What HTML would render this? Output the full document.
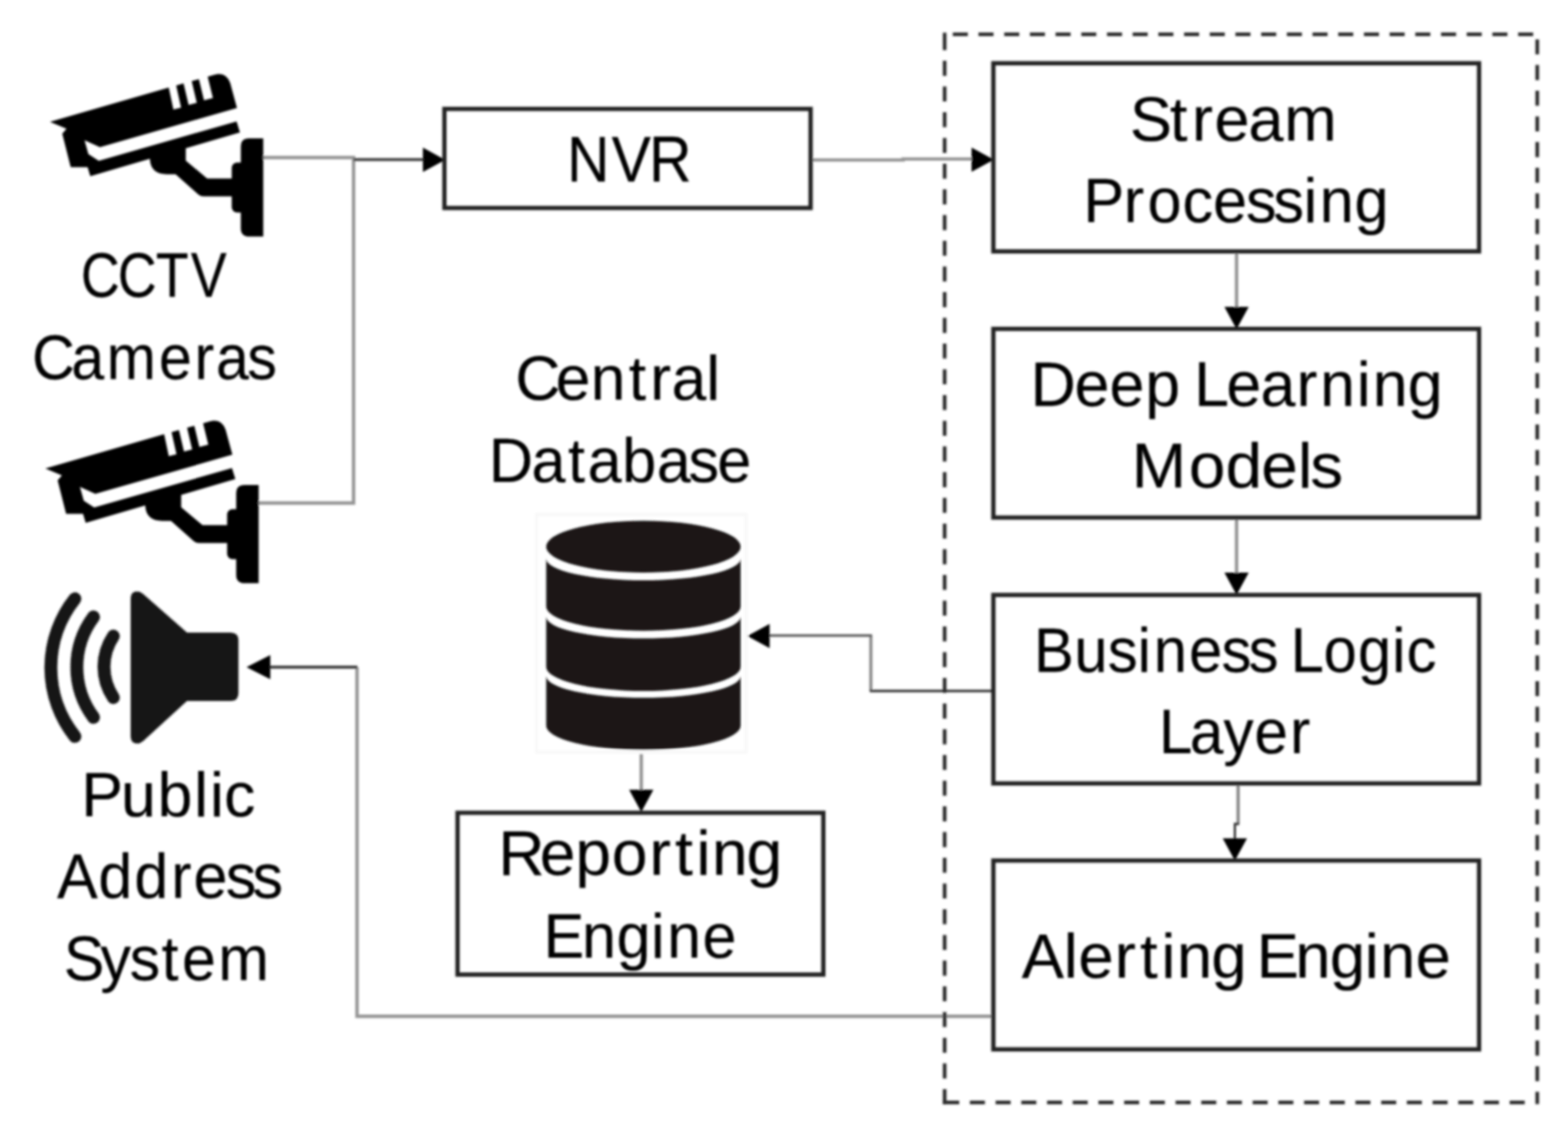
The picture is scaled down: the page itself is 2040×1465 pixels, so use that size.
<!DOCTYPE html>
<html lang="en"><head><meta charset="utf-8"><title>CCTV Stream Processing</title>
<style>html,body{margin:0;padding:0;background:#fff}body{width:2040px;height:1465px;overflow:hidden}svg{display:block}text{font-family:"Liberation Sans",sans-serif;fill:#060606;stroke:#060606;stroke-width:0.25px}</style>
</head><body>
<svg width="2040" height="1465" viewBox="0 0 2040 1465" role="img" aria-label="CCTV Cameras, NVR, Stream Processing, Deep Learning Models, Business Logic Layer, Alerting Engine, Central Database, Reporting Engine, Public Address System">
<defs><filter id="b" x="-5%" y="-5%" width="110%" height="110%"><feGaussianBlur stdDeviation="1.4"/></filter></defs>
<rect width="2040" height="1465" fill="#fff"/>
<g filter="url(#b)">
<rect x="698" y="669.5" width="272.5" height="309" fill="none" stroke="#f8f8f8" stroke-width="4"/>
<ellipse cx="837.10" cy="711.25" rx="126.50" ry="33.75" fill="#1a1818"/>
<path d="M710.6 726.70 A126.50 28.3 0 0 0 963.6 726.70 L963.6 789.20 A126.50 31.5 0 0 1 710.6 789.20 Z" fill="#1a1818"/>
<path d="M710.6 802.30 A126.50 28.3 0 0 0 963.6 802.30 L963.6 867.50 A126.50 31.5 0 0 1 710.6 867.50 Z" fill="#1a1818"/>
<path d="M710.6 879.50 A126.50 28.3 0 0 0 963.6 879.50 L963.6 944.20 A126.50 31.5 0 0 1 710.6 944.20 Z" fill="#1a1818"/>
<g fill="none" stroke="#949494" stroke-width="4.4">
<path d="M342 205 H460 V654.5 H336"/>
<path d="M1056 208.1 H1175 V206.9 H1266"/>
<path d="M1608.8 329 V400"/>
<path d="M1608.8 675 V746"/>
<path d="M834.3 981 V1030"/>
<path d="M1290 1322.2 H464.5 V868"/>
</g>
<path d="M1133 826.8 V899" fill="none" stroke="#8c8c8c" stroke-width="4.2"/>
<path d="M1134.5 826.8 H1000" fill="none" stroke="#585858" stroke-width="3.2"/>
<path d="M1290 899 H1131.5" fill="none" stroke="#262626" stroke-width="3.2"/>
<path d="M1610.8 1021 V1072" fill="none" stroke="#878787" stroke-width="4.2"/>
<path d="M1612.2 1072 H1606.6 V1093" fill="none" stroke="#2a2a2a" stroke-width="2.8"/>
<g fill="none" stroke="#3c3c3c" stroke-width="3.8">
<path d="M460 207.6 H552"/>
<path d="M465 868 H350"/>
</g>
<path d="M579.2 207.9 L550.2 192.1 L550.2 223.70000000000002 Z" fill="#000"/>
<path d="M1293 207.8 L1264 192.0 L1264 223.60000000000002 Z" fill="#000"/>
<path d="M1608.8 428.2 L1593.0 399.2 L1624.6 399.2 Z" fill="#000"/>
<path d="M1608.8 774.0 L1593.0 745.0 L1624.6 745.0 Z" fill="#000"/>
<path d="M1606.6 1119.8 L1590.8 1090.8 L1622.3999999999999 1090.8 Z" fill="#000"/>
<path d="M834.3 1056.5 L818.5 1027.5 L850.0999999999999 1027.5 Z" fill="#000"/>
<path d="M972.3 827.5 L1001.3 811.7 L1001.3 843.3 Z" fill="#000"/>
<path d="M320.7 868 L351.7 852.2 L351.7 883.8 Z" fill="#000"/>
<g fill="none" stroke="#2b2b2b" stroke-width="4.7">
<path d="M1239.6 44.7H1259.2M1273.0 44.7H1292.6M1306.5 44.7H1326.1M1339.9 44.7H1359.5M1373.3 44.7H1392.9M1406.8 44.7H1426.3M1440.2 44.7H1459.8M1473.6 44.7H1493.2M1507.0 44.7H1526.6M1540.5 44.7H1560.1M1573.9 44.7H1593.5M1607.3 44.7H1626.9M1640.8 44.7H1660.4M1674.2 44.7H1693.8M1707.6 44.7H1727.2M1741.0 44.7H1760.6M1774.5 44.7H1794.1M1807.9 44.7H1827.5M1841.3 44.7H1860.9M1874.8 44.7H1894.4M1908.2 44.7H1927.8M1941.6 44.7H1961.2M1975.1 44.7H1994.7"/>
<path d="M2000 51.2V70.8M2000 84.6V104.2M2000 118.0V137.6M2000 151.4V171.0M2000 184.8V204.4M2000 218.2V237.8M2000 251.6V271.2M2000 285.0V304.6M2000 318.4V338.0M2000 351.8V371.4M2000 385.2V404.8M2000 418.6V438.2M2000 452.0V471.6M2000 485.4V505.0M2000 518.8V538.4M2000 552.2V571.8M2000 585.6V605.2M2000 619.0V638.6M2000 652.4V672.0M2000 685.8V705.4M2000 719.2V738.8M2000 752.6V772.2M2000 786.0V805.6M2000 819.4V839.0M2000 852.8V872.4M2000 886.2V905.8M2000 919.6V939.2M2000 953.0V972.6M2000 986.4V1006.0M2000 1019.8V1039.4M2000 1053.2V1072.8M2000 1086.6V1106.2M2000 1120.0V1139.6M2000 1153.4V1173.0M2000 1186.8V1206.4M2000 1220.2V1239.8M2000 1253.6V1273.2M2000 1287.0V1306.6M2000 1320.4V1340.0M2000 1353.8V1373.4M2000 1387.2V1406.8M2000 1420.6V1436.6"/>
<path d="M1229 42.4V65.2M1229 79.1V98.7M1229 112.5V132.1M1229 146.0V165.6M1229 179.4V199.0M1229 212.9V232.5M1229 246.3V265.9M1229 279.8V299.4M1229 313.2V332.8M1229 346.7V366.3M1229 380.1V399.7M1229 413.6V433.2M1229 447.0V466.6M1229 480.5V500.1M1229 513.9V533.5M1229 547.4V567.0M1229 580.8V600.4M1229 614.2V633.9M1229 647.7V667.3M1229 681.2V700.8M1229 714.6V734.2M1229 748.0V767.6M1229 781.5V801.1M1229 815.0V834.6M1229 848.4V868.0M1229 881.9V901.5M1229 915.3V934.9M1229 948.8V968.4M1229 982.2V1001.8M1229 1015.7V1035.2M1229 1049.1V1068.7M1229 1082.6V1102.2M1229 1116.0V1135.6M1229 1149.5V1169.0M1229 1182.9V1202.5M1229 1216.4V1236.0M1229 1249.8V1269.4M1229 1283.2V1302.8M1229 1316.7V1336.3M1229 1350.2V1369.8M1229 1383.6V1403.2M1229 1417.0V1436.6"/>
<path d="M1226.7 1434.3H1248M1261.8 1434.3H1281.4M1295.3 1434.3H1314.9M1328.7 1434.3H1348.3M1362.2 1434.3H1381.8M1395.6 1434.3H1415.2M1429.0 1434.3H1448.6M1462.5 1434.3H1482.1M1495.9 1434.3H1515.5M1529.4 1434.3H1549.0M1562.8 1434.3H1582.4M1596.2 1434.3H1615.8M1629.7 1434.3H1649.3M1663.1 1434.3H1682.7M1696.6 1434.3H1716.2M1730.0 1434.3H1749.6M1763.4 1434.3H1783.0M1796.9 1434.3H1816.5M1830.3 1434.3H1849.9M1863.8 1434.3H1883.4M1897.2 1434.3H1916.8M1930.6 1434.3H1950.2M1964.1 1434.3H1983.7"/>
</g>
<g fill="none" stroke="#222222" stroke-width="5.6">
<rect x="578.2" y="141.7" width="476.40" height="128.90"/>
<rect x="595.3" y="1057.5" width="475.90" height="210.50"/>
<rect x="1292.4" y="82.3" width="631.90" height="244.80"/>
<rect x="1292.4" y="427.9" width="631.90" height="245.50"/>
<rect x="1292.4" y="774.1" width="631.90" height="245.20"/>
<rect x="1292.4" y="1119.6" width="631.90" height="245.70"/>
</g>
<g id="cam1"><path d="M65 158.6 L217.5 114.6 L219.6 114 L225.6 142.6 L235.6 140 L229.2 111.2 L238.8 108.6 L245.4 136.6 L256 133.8 L249.4 105.6 L258.8 103 L265.4 130.4 L277 127.4 L270.2 99.8 L279 97.2 Q294 93 299.5 108 L308.3 140.6 L130 191.5 L110 182.5 L115 200.5 L128.5 209.2 L307.8 158 L312.2 172.3 L117.5 229.3 L114 217.5 L92 217.5 L81 174 L86.5 167.5 Z" fill="#000"/>
<path d="M195 200 L195 207 Q196 226.5 217 226.7 L228.5 226.7 L258 253 Q261 255.5 265 255.5 L305 255.5 L305 232.3 L269.5 232.3 L241.7 209 L241.7 185 Z" fill="#000"/>
<rect x="301.5" y="211.5" width="20" height="65" rx="7" fill="#000"/>
<path d="M342.5 180 L324 180 Q313.3 180 313.3 191 L313.3 297 Q313.3 307.8 324 307.8 L342.5 307.8 Z" fill="#000"/></g>
<g transform="translate(-6 451)"><path d="M65 158.6 L217.5 114.6 L219.6 114 L225.6 142.6 L235.6 140 L229.2 111.2 L238.8 108.6 L245.4 136.6 L256 133.8 L249.4 105.6 L258.8 103 L265.4 130.4 L277 127.4 L270.2 99.8 L279 97.2 Q294 93 299.5 108 L308.3 140.6 L130 191.5 L110 182.5 L115 200.5 L128.5 209.2 L307.8 158 L312.2 172.3 L117.5 229.3 L114 217.5 L92 217.5 L81 174 L86.5 167.5 Z" fill="#000"/>
<path d="M195 200 L195 207 Q196 226.5 217 226.7 L228.5 226.7 L258 253 Q261 255.5 265 255.5 L305 255.5 L305 232.3 L269.5 232.3 L241.7 209 L241.7 185 Z" fill="#000"/>
<rect x="301.5" y="211.5" width="20" height="65" rx="7" fill="#000"/>
<path d="M342.5 180 L324 180 Q313.3 180 313.3 191 L313.3 297 Q313.3 307.8 324 307.8 L342.5 307.8 Z" fill="#000"/></g>
<path d="M97.48 779.02 A143.9 143.9 0 0 0 97.48 958.18" fill="none" stroke="#151515" stroke-width="16.8" stroke-linecap="round"/>
<path d="M121.69 802.62 A109.4 109.4 0 0 0 121.69 933.38" fill="none" stroke="#151515" stroke-width="16.8" stroke-linecap="round"/>
<path d="M147.49 827.61 A71.7 71.7 0 0 0 147.49 907.59" fill="none" stroke="#151515" stroke-width="16.8" stroke-linecap="round"/>
<path d="M170 779 Q170 769.6 178.5 769.6 Q182.5 769.6 186.5 773 L243.3 823 L300 823 Q310.2 823 310.2 833 L310.2 902 Q310.2 912 300 912 L243.3 912 L186.5 964 Q182.5 967.4 178.5 967.4 Q170 967.4 170 958 Z" fill="#151515"/>
<g font-size="82.0">
<text transform="translate(105.3 385.8) scale(0.853 1)" x="0.0 56.1 114.4 167.6" y="0">CCTV</text>
<text transform="translate(41.7 493.3) scale(0.939 1)" x="0.0 54.5 103.4 175.9 225.0 254.9 298.3" y="0">Cameras</text>
<text transform="translate(737.7 236.3) scale(0.909 1)" x="0.0 63.8 117.6" y="0" font-size="84.2">NVR</text>
<text transform="translate(1470.0 182.5) scale(1.001 1)" x="0.0 51.9 80.6 109.8 154.1 200.6" y="0">Stream</text>
<text transform="translate(1409.4 289.2) scale(0.97 1)" x="0.0 54.3 86.3 133.2 174.1 218.2 254.9 295.4 317.1 363.8" y="0">Processing</text>
<text transform="translate(1340.7 527.6) scale(0.995 1)" x="0.0 57.7 103.3 150.1 195.9 214.0 256.1 300.8 347.8 378.6 426.8 447.6 493.2" y="0">Deep Learning</text>
<text transform="translate(1472.2 634.3) scale(1.04 1)" x="0.0 71.7 117.7 162.4 207.9 223.6" y="0">Models</text>
<text transform="translate(1345.3 873.6) scale(0.948 1)" x="0.0 55.4 101.2 142.0 164.2 212.8 257.4 294.5 333.0 352.2 397.3 444.7 491.6 511.2" y="0">Business Logic</text>
<text transform="translate(1507.8 980.3) scale(0.957 1)" x="0.0 41.9 87.7 129.7 178.4" y="0">Layer</text>
<text transform="translate(1329.3 1271.9) scale(1.005 1)" x="0.0 54.4 73.3 120.4 153.3 180.9 201.0 245.6 288.3 304.3 354.2 398.9 443.9 464.0 509.9" y="0">Alerting Engine</text>
<text transform="translate(670.6 520.2) scale(0.99 1)" x="0.0 53.0 98.9 148.8 177.2 205.2 250.6" y="0">Central</text>
<text transform="translate(635.9 626.7) scale(0.97 1)" x="0.0 57.3 106.4 132.5 178.9 225.3 267.8 306.6" y="0">Database</text>
<text transform="translate(648.3 1138.3) scale(1.018 1)" x="0.0 53.0 98.5 145.2 193.2 225.9 253.2 273.0 317.2" y="0">Reporting</text>
<text transform="translate(707.2 1245.5) scale(0.967 1)" x="0.0 51.8 98.3 144.7 166.2 214.0" y="0">Engine</text>
<text transform="translate(105.8 1061.8) scale(0.992 1)" x="0.0 52.1 99.9 148.0 168.9 187.2" y="0">Public</text>
<text transform="translate(74.2 1168.0) scale(0.968 1)" x="0.0 55.5 103.9 153.4 183.4 226.7 262.8" y="0">Address</text>
<text transform="translate(83.1 1274.8) scale(0.966 1)" x="0.0 49.3 88.7 131.6 159.0 208.1" y="0">System</text>
</g>
</g>
</svg>
</body></html>
